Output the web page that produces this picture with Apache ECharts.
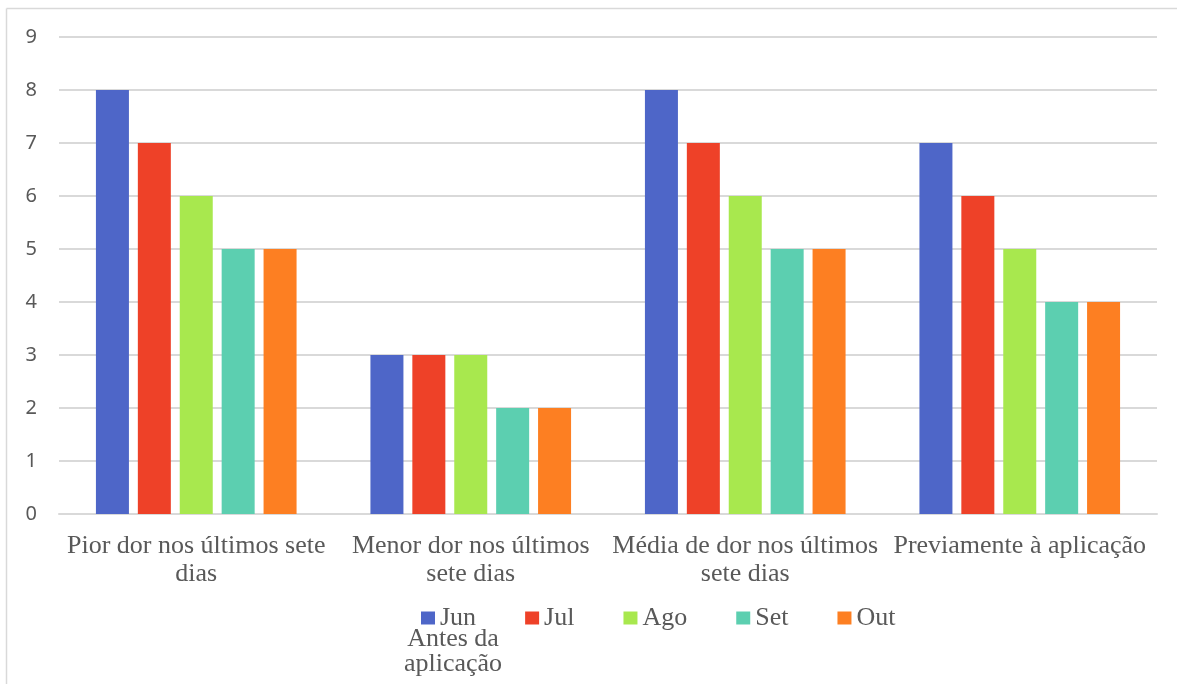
<!DOCTYPE html>
<html>
<head>
<meta charset="utf-8">
<script src="https://cdn.jsdelivr.net/npm/echarts@6/dist/echarts.min.js"></script>
<style>html,body{margin:0;padding:0;background:#fff}#c{width:1177px;height:684px}</style>
</head>
<body>
<div id="c"></div>
<script>
const categories = ["Pior dor nos últimos sete dias", "Menor dor nos últimos sete dias", "Média de dor nos últimos sete dias", "Previamente à aplicação"];
const categoryLabels = ["Pior dor nos últimos sete\ndias", "Menor dor nos últimos\nsete dias", "Média de dor nos últimos\nsete dias", "Previamente à aplicação"];
const seriesNames = ["Jun Antes da aplicação", "Jul", "Ago", "Set", "Out"];
const legendLabels = ["Jun", "Jul", "Ago", "Set", "Out"];
const jun = [8, 3, 8, 7];
const jul = [7, 3, 7, 6];
const ago = [6, 3, 6, 5];
const set = [5, 2, 5, 4];
const out = [5, 2, 5, 4];
const yTicks = [0, 1, 2, 3, 4, 5, 6, 7, 8, 9];
const colors = ["#4e66c8", "#ee4128", "#a8e84e", "#5ccfb0", "#fd7f22"];

const values = [jun, jul, ago, set, out];
const serif = "'Liberation Serif', 'Times New Roman', serif";
const chart = echarts.init(document.getElementById('c'));
chart.setOption({
  animation: false,
  backgroundColor: '#fff',
  color: colors,
  grid: { left: 59, right: 20, top: 37, bottom: 170, containLabel: false },
  legend: {
    left: 416, top: 600,
    itemWidth: 14, itemHeight: 13, itemGap: 49,
    icon: 'rect',
    textStyle: { fontFamily: serif, fontSize: 26, color: '#595959' },
    formatter: function (name) { return legendLabels[seriesNames.indexOf(name)]; },
    data: seriesNames
  },
  xAxis: {
    type: 'category',
    data: categories,
    axisLine: { lineStyle: { color: '#d9d9d9', width: 2 } },
    axisTick: { show: false },
    axisLabel: {
      interval: 0, margin: 18,
      fontFamily: serif, fontSize: 26, color: '#595959', lineHeight: 28,
      formatter: function (v, i) { return categoryLabels[categories.indexOf(v)]; }
    }
  },
  yAxis: {
    type: 'value', min: yTicks[0], max: yTicks[yTicks.length - 1], interval: 1,
    axisLine: { show: false }, axisTick: { show: false },
    splitLine: { lineStyle: { color: '#d9d9d9', width: 2 } },
    axisLabel: { margin: 22, fontFamily: "'Noto Sans', sans-serif", fontSize: 20, color: '#595959' }
  },
  graphic: [
    { type: 'line', shape: { x1: 6.5, y1: 8.5, x2: 1177, y2: 8.5 }, style: { stroke: '#d9d9d9', lineWidth: 1.5 } },
    { type: 'line', shape: { x1: 6.5, y1: 8.5, x2: 6.5, y2: 684 }, style: { stroke: '#d9d9d9', lineWidth: 1.5 } },
    { type: 'text', x: 453, y: 627, style: { text: 'Antes da\naplicação', font: "26px " + serif, fill: '#595959', align: 'center', verticalAlign: 'top', lineHeight: 25 } }
  ],
  series: seriesNames.map(function (n, i) {
    return { name: n, type: 'bar', data: values[i], barWidth: 33, barGap: '27%' };
  })
});
</script>
</body>
</html>
